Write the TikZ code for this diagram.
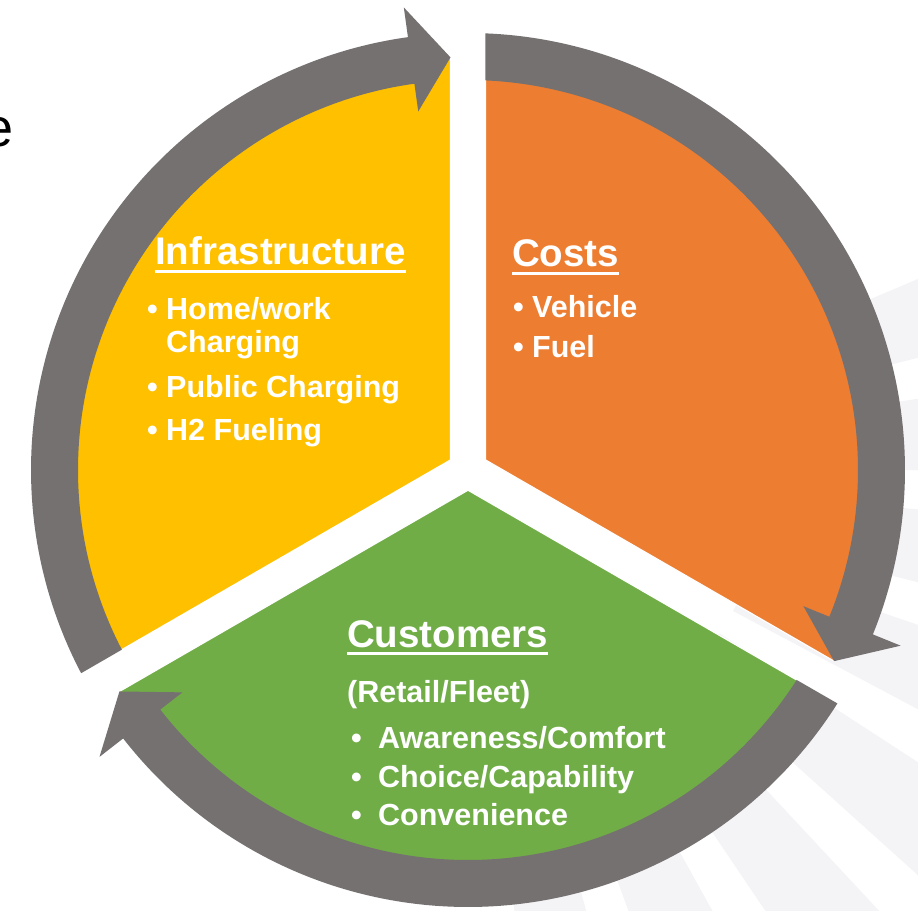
\documentclass[tikz,border=0pt]{standalone}
\usepackage{fontspec}
\setmainfont{Liberation Sans}

\definecolor{ringgray}{HTML}{767171}
\definecolor{infrayellow}{HTML}{FFC000}
\definecolor{costorange}{HTML}{ED7D31}
\definecolor{custgreen}{HTML}{70AD47}
\definecolor{raygray}{HTML}{F4F4F7}

% heading with a thick rule under it
\newcommand\headul[1]{\setbox0\hbox{#1}\rlap{\rule[-8pt]{\wd0}{3pt}}\box0}

\begin{document}
\begin{tikzpicture}[x=1pt,y=1pt,
  head/.style={anchor=base west,inner sep=0,text=white,font=\fontsize{38.5}{40}\selectfont\bfseries},
  item/.style={anchor=base west,inner sep=0,text=white,font=\fontsize{30.5}{32}\selectfont\bfseries},
  sector/.style={draw=white,line width=1.2}]
\clip (-468,-440) rectangle (450,470);
\fill[white] (-468,-440) rectangle (450,470);

% rays behind the wheel
\foreach \a in {-84,-70,...,14}
  \fill[raygray] (0,0) -- (\a:1100) -- (\a+9:1100) -- cycle;
\fill[white] (0,0) circle[radius=300];

% the three parts
\fill[infrayellow,sector] (150:20.2) -- (92.43:413) arc[start angle=92.43,end angle=207.57,radius=413] -- cycle;
\fill[costorange,sector] (30:20.2) -- (-27.57:413) arc[start angle=-27.57,end angle=87.57,radius=413] -- cycle;
\fill[custgreen,sector] (270:20.2) -- (212.43:413) arc[start angle=212.43,end angle=327.57,radius=413] -- cycle;

% cycle arrows (tail in/out, back of head, tip)
\foreach \tin/\tout/\back/\tip in {207.43/207.71/97.9/92.43, 87.43/87.71/-22.1/-27.57, -32.57/-32.29/-142.1/-147.57}
  \fill[ringgray] (\tin:390) -- (\tout:437) arc[start angle=\tout,end angle=\back,radius=437]
    -- (\back:467) -- (\tip:413) -- (\back:362) -- (\back:390)
    arc[start angle=\back,end angle=\tin,radius=390] -- cycle;

\node[anchor=base east,inner sep=0,font=\fontsize{54}{60}\selectfont] (cut) at (-454,323) {e};

% Infrastructure
\node[head] (infra) at (-313,205) {\headul{Infrastructure}};
\node[item] (i1) at (-321,150) {\textbullet};
\node[item] (i1t) at (-302,150) {Home/work};
\node[item] (i1c) at (-302,117) {Charging};
\node[item] (i2) at (-321,72) {\textbullet};
\node[item] (i2t) at (-302,72) {Public Charging};
\node[item] (i3) at (-321,30) {\textbullet};
\node[item] (i3t) at (-302,30) {H2 Fueling};

% Costs
\node[head] (costs) at (44,203) {\headul{Costs}};
\node[item] (c1) at (45,152) {\textbullet};
\node[item] (c1t) at (64,152) {Vehicle};
\node[item] (c2) at (45,112) {\textbullet};
\node[item] (c2t) at (64,112) {Fuel};

% Customers
\node[head] (cust) at (-121,-177) {\headul{Customers}};
\node[item,font=\fontsize{30.5}{32}\selectfont\bfseries] (retail) at (-121,-232) {(Retail/Fleet)};
\node[item] (g1) at (-117,-278) {\textbullet};
\node[item] (g1t) at (-90,-278) {Awareness/Comfort};
\node[item] (g2) at (-117,-317) {\textbullet};
\node[item] (g2t) at (-90,-317) {Choice/Capability};
\node[item] (g3) at (-117,-355) {\textbullet};
\node[item] (g3t) at (-90,-355) {Convenience};
\end{tikzpicture}
\end{document}
